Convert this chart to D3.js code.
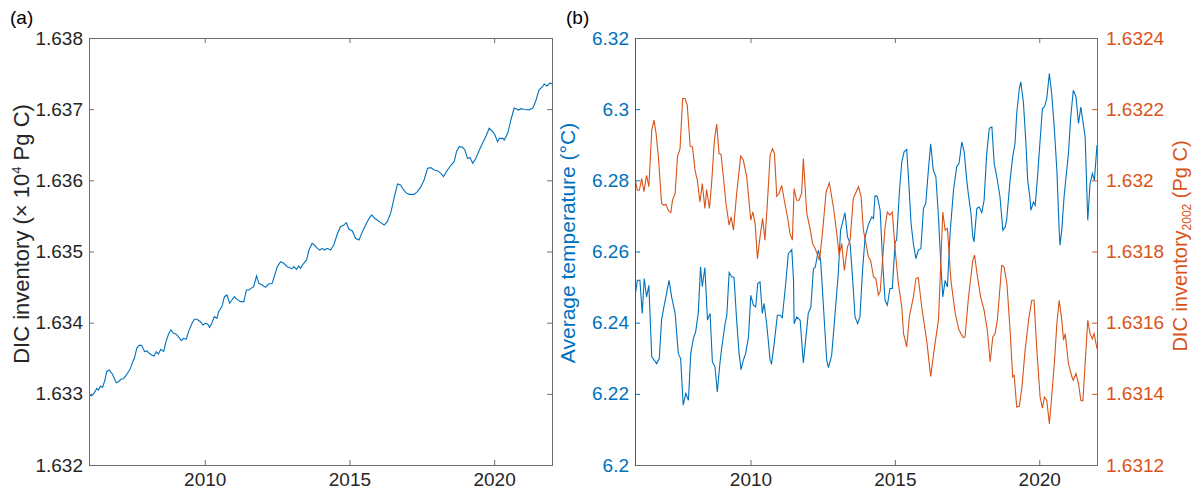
<!DOCTYPE html>
<html>
<head>
<meta charset="utf-8">
<script src="https://cdn.jsdelivr.net/npm/d3@7"></script>
<style>
    body { margin: 0; background: #fff; }
    svg text { font-family: "Liberation Sans", Arial, Helvetica, sans-serif; }
</style>
</head>
<body>
<div class="chart"></div>
<script>
    // ---- data ----
    // (a) DIC inventory, x 10^4 Pg C
    var yearsA = [2006.00, 2006.09, 2006.17, 2006.27, 2006.32, 2006.40, 2006.47, 2006.55, 2006.61, 2006.70,
        2006.79, 2006.84, 2006.94, 2007.02, 2007.10, 2007.19, 2007.27, 2007.36, 2007.42, 2007.51,
        2007.57, 2007.65, 2007.73, 2007.82, 2007.92, 2008.00, 2008.08, 2008.17, 2008.25, 2008.32,
        2008.40, 2008.48, 2008.58, 2008.66, 2008.75, 2008.83, 2008.92, 2009.00, 2009.09, 2009.19,
        2009.27, 2009.36, 2009.44, 2009.56, 2009.64, 2009.73, 2009.85, 2009.94, 2010.02, 2010.10,
        2010.17, 2010.25, 2010.33, 2010.42, 2010.48, 2010.60, 2010.68, 2010.77, 2010.86, 2010.94,
        2011.02, 2011.12, 2011.23, 2011.35, 2011.44, 2011.52, 2011.60, 2011.69, 2011.79, 2011.87,
        2011.98, 2012.10, 2012.21, 2012.33, 2012.50, 2012.62, 2012.73, 2012.85, 2013.02, 2013.08,
        2013.17, 2013.25, 2013.31, 2013.42, 2013.52, 2013.60, 2013.71, 2013.79, 2013.89, 2013.98,
        2014.06, 2014.14, 2014.23, 2014.35, 2014.46, 2014.58, 2014.69, 2014.81, 2014.89, 2014.98,
        2015.10, 2015.21, 2015.33, 2015.45, 2015.56, 2015.68, 2015.77, 2015.87, 2015.96, 2016.08,
        2016.20, 2016.31, 2016.43, 2016.54, 2016.66, 2016.77, 2016.83, 2016.95, 2017.06, 2017.23,
        2017.35, 2017.47, 2017.58, 2017.70, 2017.81, 2017.93, 2018.04, 2018.16, 2018.25, 2018.39,
        2018.51, 2018.62, 2018.70, 2018.79, 2018.91, 2018.99, 2019.08, 2019.17, 2019.26, 2019.37,
        2019.49, 2019.60, 2019.72, 2019.83, 2019.95, 2020.03, 2020.12, 2020.18, 2020.30, 2020.35,
        2020.47, 2020.58, 2020.69, 2020.79, 2020.84, 2020.93, 2021.05, 2021.20, 2021.34, 2021.45,
        2021.55, 2021.66, 2021.73, 2021.83, 2021.93, 2022.00];
    var dicA = [1.632984, 1.632970, 1.633007, 1.633077, 1.633054, 1.633110, 1.633091, 1.633194, 1.633311, 1.633335,
        1.633288, 1.633251, 1.633157, 1.633171, 1.633204, 1.633213, 1.633251, 1.633311, 1.633344, 1.633452,
        1.633499, 1.633639, 1.633681, 1.633681, 1.633593, 1.633602, 1.633569, 1.633546, 1.633532, 1.633593,
        1.633560, 1.633625, 1.633593, 1.633733, 1.633841, 1.633897, 1.633850, 1.633841, 1.633803, 1.633747,
        1.633780, 1.633766, 1.633874, 1.633991, 1.634047, 1.634047, 1.634014, 1.633967, 1.633991, 1.633981,
        1.633934, 1.634000, 1.634084, 1.634061, 1.634155, 1.634234, 1.634365, 1.634389, 1.634272, 1.634319,
        1.634365, 1.634328, 1.634295, 1.634295, 1.634459, 1.634459, 1.634482, 1.634506, 1.634656, 1.634553,
        1.634529, 1.634496, 1.634543, 1.634553, 1.634778, 1.634857, 1.634834, 1.634787, 1.634759, 1.634787,
        1.634749, 1.634796, 1.634763, 1.634834, 1.634881, 1.635021, 1.635115, 1.635091, 1.635044, 1.635021,
        1.635044, 1.635021, 1.635044, 1.635021, 1.635091, 1.635246, 1.635349, 1.635372, 1.635405, 1.635316,
        1.635288, 1.635185, 1.635162, 1.635279, 1.635372, 1.635466, 1.635513, 1.635466, 1.635443, 1.635405,
        1.635372, 1.635419, 1.635546, 1.635747, 1.635948, 1.635934, 1.635888, 1.635827, 1.635803, 1.635803,
        1.635841, 1.635911, 1.636005, 1.636169, 1.636178, 1.636145, 1.636136, 1.636098, 1.636052, 1.636145,
        1.636215, 1.636262, 1.636403, 1.636473, 1.636464, 1.636426, 1.636309, 1.636319, 1.636239, 1.636309,
        1.636426, 1.636520, 1.636623, 1.636731, 1.636684, 1.636637, 1.636543, 1.636590, 1.636590, 1.636567,
        1.636660, 1.636848, 1.637016, 1.637000, 1.636988, 1.637007, 1.636995, 1.636990, 1.637016, 1.637129,
        1.637269, 1.637312, 1.637354, 1.637326, 1.637368, 1.637354];

    // (b) average temperature, degC (left axis)
    var yearsTemp = [2006.00, 2006.08, 2006.17, 2006.25, 2006.32, 2006.40, 2006.48, 2006.58, 2006.75, 2006.84,
        2006.92, 2006.98, 2007.18, 2007.27, 2007.39, 2007.50, 2007.58, 2007.67, 2007.76, 2007.85,
        2007.93, 2008.02, 2008.10, 2008.19, 2008.27, 2008.33, 2008.42, 2008.51, 2008.60, 2008.68,
        2008.77, 2008.85, 2008.94, 2009.00, 2009.12, 2009.18, 2009.26, 2009.35, 2009.43, 2009.52,
        2009.60, 2009.67, 2009.75, 2009.83, 2009.93, 2010.01, 2010.10, 2010.18, 2010.25, 2010.33,
        2010.41, 2010.47, 2010.56, 2010.68, 2010.73, 2010.82, 2010.93, 2011.02, 2011.10, 2011.22,
        2011.31, 2011.43, 2011.49, 2011.51, 2011.60, 2011.72, 2011.83, 2011.91, 2012.00, 2012.09,
        2012.18, 2012.24, 2012.35, 2012.43, 2012.52, 2012.64, 2012.70, 2012.81, 2012.93, 2013.04,
        2013.12, 2013.18, 2013.27, 2013.36, 2013.45, 2013.54, 2013.62, 2013.71, 2013.79, 2013.88,
        2013.97, 2014.08, 2014.20, 2014.26, 2014.31, 2014.39, 2014.49, 2014.58, 2014.66, 2014.74,
        2014.83, 2014.91, 2015.01, 2015.06, 2015.16, 2015.24, 2015.32, 2015.41, 2015.49, 2015.56,
        2015.64, 2015.73, 2015.81, 2015.90, 2015.99, 2016.07, 2016.16, 2016.24, 2016.33, 2016.42,
        2016.51, 2016.59, 2016.66, 2016.74, 2016.82, 2016.91, 2017.03, 2017.14, 2017.22, 2017.32,
        2017.40, 2017.49, 2017.55, 2017.63, 2017.70, 2017.74, 2017.84, 2017.92, 2018.01, 2018.09,
        2018.18, 2018.27, 2018.36, 2018.44, 2018.53, 2018.64, 2018.74, 2018.82, 2018.87, 2018.99,
        2019.08, 2019.16, 2019.22, 2019.31, 2019.36, 2019.45, 2019.54, 2019.60, 2019.68, 2019.71,
        2019.80, 2019.86, 2019.94, 2020.03, 2020.11, 2020.18, 2020.26, 2020.35, 2020.43, 2020.51,
        2020.61, 2020.69, 2020.72, 2020.78, 2020.86, 2021.01, 2021.09, 2021.18, 2021.27, 2021.36,
        2021.44, 2021.59, 2021.68, 2021.76, 2021.84, 2021.91, 2022.00];
    var tempB = [6.2472, 6.2519, 6.2519, 6.2426, 6.2524, 6.2472, 6.2505, 6.2304, 6.2285, 6.2299,
        6.2407, 6.2435, 6.2519, 6.2472, 6.2426, 6.2313, 6.2299, 6.2168, 6.2201, 6.2182,
        6.2313, 6.2355, 6.2374, 6.2426, 6.2557, 6.2501, 6.2555, 6.2407, 6.2426, 6.2290,
        6.2276, 6.2205, 6.2285, 6.2327, 6.2397, 6.2421, 6.2541, 6.2529, 6.2527, 6.2407,
        6.2318, 6.2268, 6.2294, 6.2313, 6.2360, 6.2477, 6.2449, 6.2444, 6.2510, 6.2515,
        6.2426, 6.2454, 6.2397, 6.2294, 6.2285, 6.2341, 6.2421, 6.2421, 6.2414, 6.2510,
        6.2594, 6.2605, 6.2519, 6.2397, 6.2416, 6.2407, 6.2287, 6.2351, 6.2426, 6.2444,
        6.2552, 6.2555, 6.2604, 6.2575, 6.2454, 6.2294, 6.2274, 6.2308, 6.2426, 6.2538,
        6.2660, 6.2679, 6.2709, 6.2641, 6.2622, 6.2519, 6.2416, 6.2397, 6.2416, 6.2547,
        6.2641, 6.2675, 6.2697, 6.2693, 6.2756, 6.2755, 6.2716, 6.2566, 6.2463, 6.2449,
        6.2496, 6.2496, 6.2627, 6.2632, 6.2772, 6.2852, 6.2880, 6.2887, 6.2782, 6.2679,
        6.2622, 6.2580, 6.2604, 6.2608, 6.2721, 6.2735, 6.2829, 6.2903, 6.2829, 6.2810,
        6.2697, 6.2566, 6.2472, 6.2519, 6.2500, 6.2650, 6.2772, 6.2838, 6.2847, 6.2908,
        6.2880, 6.2800, 6.2758, 6.2711, 6.2641, 6.2627, 6.2721, 6.2725, 6.2709, 6.2744,
        6.2875, 6.2946, 6.2950, 6.2847, 6.2810, 6.2754, 6.2660, 6.2669, 6.2688, 6.2800,
        6.2866, 6.2903, 6.2988, 6.3058, 6.3077, 6.3021, 6.2903, 6.2800, 6.2749, 6.2716,
        6.2739, 6.2730, 6.2810, 6.2913, 6.3002, 6.3006, 6.3030, 6.3100, 6.3044, 6.2960,
        6.2829, 6.2660, 6.2618, 6.2660, 6.2754, 6.2875, 6.2978, 6.3053, 6.3035, 6.2960,
        6.3006, 6.2922, 6.2688, 6.2791, 6.2819, 6.2800, 6.2899];

    // (b) DIC inventory 2002, Pg C (right axis)
    var yearsDic = [2006.00, 2006.08, 2006.15, 2006.23, 2006.31, 2006.40, 2006.48, 2006.58, 2006.66, 2006.73,
        2006.81, 2006.92, 2007.00, 2007.07, 2007.15, 2007.24, 2007.30, 2007.39, 2007.47, 2007.56,
        2007.65, 2007.73, 2007.81, 2007.91, 2007.99, 2008.08, 2008.16, 2008.25, 2008.33, 2008.42,
        2008.48, 2008.58, 2008.66, 2008.75, 2008.83, 2008.91, 2008.98, 2009.06, 2009.15, 2009.26,
        2009.33, 2009.41, 2009.52, 2009.66, 2009.75, 2009.87, 2010.01, 2010.08, 2010.16, 2010.24,
        2010.33, 2010.42, 2010.50, 2010.58, 2010.68, 2010.76, 2010.83, 2010.91, 2010.99, 2011.08,
        2011.17, 2011.28, 2011.37, 2011.45, 2011.51, 2011.60, 2011.68, 2011.77, 2011.83, 2011.95,
        2012.06, 2012.15, 2012.24, 2012.39, 2012.50, 2012.62, 2012.73, 2012.87, 2012.99, 2013.07,
        2013.16, 2013.25, 2013.36, 2013.45, 2013.56, 2013.74, 2013.83, 2013.91, 2014.00, 2014.08,
        2014.16, 2014.26, 2014.34, 2014.43, 2014.49, 2014.57, 2014.66, 2014.74, 2014.83, 2014.91,
        2015.01, 2015.12, 2015.24, 2015.30, 2015.41, 2015.50, 2015.64, 2015.73, 2015.81, 2015.93,
        2016.10, 2016.24, 2016.39, 2016.51, 2016.66, 2016.74, 2016.82, 2016.94, 2017.09, 2017.22,
        2017.37, 2017.43, 2017.55, 2017.70, 2017.76, 2017.86, 2017.97, 2018.09, 2018.20, 2018.30,
        2018.39, 2018.47, 2018.55, 2018.70, 2018.78, 2018.88, 2018.99, 2019.08, 2019.13, 2019.22,
        2019.31, 2019.40, 2019.51, 2019.63, 2019.74, 2019.82, 2019.91, 2020.03, 2020.11, 2020.18,
        2020.26, 2020.35, 2020.43, 2020.53, 2020.61, 2020.69, 2020.78, 2020.84, 2020.90, 2021.01,
        2021.13, 2021.18, 2021.27, 2021.36, 2021.44, 2021.51, 2021.68, 2021.76, 2021.84, 2021.90,
        2022.00];
    var dicB = [1.632005, 1.631972, 1.631972, 1.632005, 1.631968, 1.632014, 1.631982, 1.632141, 1.632169, 1.632132,
        1.632066, 1.631935, 1.631930, 1.631933, 1.631916, 1.631909, 1.631944, 1.631963, 1.632066, 1.632089,
        1.632230, 1.632230, 1.632211, 1.632096, 1.632094, 1.632028, 1.632000, 1.631939, 1.631991, 1.631921,
        1.631974, 1.631921, 1.632000, 1.632113, 1.632158, 1.632075, 1.632073, 1.632010, 1.631935, 1.631874,
        1.631897, 1.631860, 1.631963, 1.632068, 1.632057, 1.632010, 1.631888, 1.631911, 1.631879, 1.631780,
        1.631841, 1.631893, 1.631832, 1.631930, 1.632071, 1.632089, 1.632075, 1.631955, 1.631963, 1.631986,
        1.631944, 1.631897, 1.631850, 1.631832, 1.631977, 1.631944, 1.631944, 1.631963, 1.632061, 1.631907,
        1.631865, 1.631822, 1.631808, 1.631775, 1.631860, 1.631968, 1.631993, 1.631925, 1.631850, 1.631790,
        1.631822, 1.631747, 1.631813, 1.631832, 1.631949, 1.631982, 1.631954, 1.631860, 1.631822, 1.631785,
        1.631775, 1.631729, 1.631724, 1.631677, 1.631687, 1.631771, 1.631869, 1.631911, 1.631902, 1.631911,
        1.631804, 1.631710, 1.631644, 1.631569, 1.631532, 1.631616, 1.631672, 1.631724, 1.631727, 1.631644,
        1.631551, 1.631449, 1.631541, 1.631607, 1.631911, 1.631860, 1.631865, 1.631719, 1.631626, 1.631579,
        1.631558, 1.631560, 1.631672, 1.631775, 1.631790, 1.631729, 1.631672, 1.631635, 1.631579, 1.631490,
        1.631560, 1.631569, 1.631607, 1.631761, 1.631757, 1.631710, 1.631579, 1.631448, 1.631452, 1.631363,
        1.631365, 1.631419, 1.631522, 1.631607, 1.631663, 1.631663, 1.631532, 1.631391, 1.631360, 1.631391,
        1.631382, 1.631316, 1.631391, 1.631494, 1.631597, 1.631663, 1.631607, 1.631551, 1.631569, 1.631485,
        1.631448, 1.631438, 1.631457, 1.631429, 1.631382, 1.631380, 1.631607, 1.631569, 1.631555, 1.631569,
        1.631527];

    // ticks
    var yearTicks = [2010, 2015, 2020];
    var dicTicksA = [1.632, 1.633, 1.634, 1.635, 1.636, 1.637, 1.638];
    var dicTickLabelsA = ["1.632", "1.633", "1.634", "1.635", "1.636", "1.637", "1.638"];
    var tempTicks = [6.2, 6.22, 6.24, 6.26, 6.28, 6.3, 6.32];
    var tempTickLabels = ["6.2", "6.22", "6.24", "6.26", "6.28", "6.3", "6.32"];
    var dicTicksB = [1.6312, 1.6314, 1.6316, 1.6318, 1.632, 1.6322, 1.6324];
    var dicTickLabelsB = ["1.6312", "1.6314", "1.6316", "1.6318", "1.632", "1.6322", "1.6324"];

    // ---- layout ----
    var svgWidth = 1195;
    var svgHeight = 491;
    var plotTop = 38, plotBottom = 465;
    var fontSize = 19;
    var boxColor = "#6e6e6e";
    var textColor = "#262626";
    var blue = "#0072BD";
    var orange = "#D95319";

    var svg = d3.select(".chart")
        .append("svg")
        .attr("width", svgWidth)
        .attr("height", svgHeight);

    function styleAxis(g, lineColor, labelColor) {
        g.attr("font-size", fontSize)
            .attr("font-family", null)
            .attr("color", lineColor);
        g.select(".domain").remove();
        g.selectAll("line").attr("stroke-width", 1);
        g.selectAll("text").attr("fill", labelColor);
    }

    function edge(x1, y1, x2, y2, color) {
        svg.append("line")
            .attr("x1", x1).attr("y1", y1)
            .attr("x2", x2).attr("y2", y2)
            .attr("stroke", color)
            .attr("stroke-width", 1)
            .attr("shape-rendering", "crispEdges");
    }

    // ================= panel (a) =================
    var xA = d3.scaleLinear().domain([2006, 2022]).range([89, 552]);
    var yA = d3.scaleLinear().domain([1.632, 1.638]).range([plotBottom, plotTop]);

    svg.append("clipPath").attr("id", "clipA")
        .append("rect")
        .attr("x", xA.range()[0]).attr("y", plotTop)
        .attr("width", xA.range()[1] - xA.range()[0]).attr("height", plotBottom - plotTop);

    var lineA = d3.line()
        .x((d, i) => xA(yearsA[i]))
        .y(d => yA(d));

    svg.append("path")
        .datum(dicA)
        .attr("clip-path", "url(#clipA)")
        .attr("fill", "none")
        .attr("stroke", blue)
        .attr("stroke-width", 1.1)
        .attr("d", lineA);

    svg.append("g")
        .attr("transform", `translate(0, ${plotBottom})`)
        .call(d3.axisBottom(xA).tickValues(yearTicks).tickFormat(d3.format("d")).tickSize(-5).tickPadding(8))
        .call(g => styleAxis(g, boxColor, textColor));
    svg.append("g")
        .attr("transform", `translate(0, ${plotTop})`)
        .call(d3.axisTop(xA).tickValues(yearTicks).tickFormat("").tickSize(-5))
        .call(g => styleAxis(g, boxColor, textColor));
    svg.append("g")
        .attr("transform", `translate(${xA.range()[0]}, 0)`)
        .call(d3.axisLeft(yA).tickValues(dicTicksA).tickFormat((d, i) => dicTickLabelsA[i]).tickSize(-5).tickPadding(6))
        .call(g => styleAxis(g, boxColor, textColor));
    svg.append("g")
        .attr("transform", `translate(${xA.range()[1]}, 0)`)
        .call(d3.axisRight(yA).tickValues(dicTicksA).tickFormat("").tickSize(-5))
        .call(g => styleAxis(g, boxColor, textColor));

    edge(xA.range()[0] + 0.5, plotTop + 0.5, xA.range()[1] + 0.5, plotTop + 0.5, boxColor);
    edge(xA.range()[0] + 0.5, plotBottom + 0.5, xA.range()[1] + 0.5, plotBottom + 0.5, boxColor);
    edge(xA.range()[0] + 0.5, plotTop + 0.5, xA.range()[0] + 0.5, plotBottom + 0.5, boxColor);
    edge(xA.range()[1] + 0.5, plotTop + 0.5, xA.range()[1] + 0.5, plotBottom + 0.5, boxColor);

    var titleA = svg.append("text")
        .attr("transform", "translate(29, 234) rotate(-90)")
        .attr("text-anchor", "middle")
        .attr("font-size", 22)
        .attr("fill", textColor);
    titleA.append("tspan").text("DIC inventory (\u00d7 10");
    titleA.append("tspan").attr("font-size", 13).attr("dy", -8).text("4");
    titleA.append("tspan").attr("dy", 8).text(" Pg C)");

    svg.append("text")
        .attr("x", 10).attr("y", 24)
        .attr("font-size", fontSize)
        .attr("fill", "#000")
        .text("(a)");

    // ================= panel (b) =================
    var xB = d3.scaleLinear().domain([2006, 2022]).range([635, 1097]);
    var yT = d3.scaleLinear().domain([6.2, 6.32]).range([plotBottom, plotTop]);
    var yD = d3.scaleLinear().domain([1.6312, 1.6324]).range([plotBottom, plotTop]);

    svg.append("clipPath").attr("id", "clipB")
        .append("rect")
        .attr("x", xB.range()[0]).attr("y", plotTop)
        .attr("width", xB.range()[1] - xB.range()[0]).attr("height", plotBottom - plotTop);

    var lineT = d3.line()
        .x((d, i) => xB(yearsTemp[i]))
        .y(d => yT(d));
    var lineD = d3.line()
        .x((d, i) => xB(yearsDic[i]))
        .y(d => yD(d));

    svg.append("path")
        .datum(tempB)
        .attr("clip-path", "url(#clipB)")
        .attr("fill", "none")
        .attr("stroke", blue)
        .attr("stroke-width", 1.1)
        .attr("d", lineT);

    svg.append("path")
        .datum(dicB)
        .attr("clip-path", "url(#clipB)")
        .attr("fill", "none")
        .attr("stroke", orange)
        .attr("stroke-width", 1.1)
        .attr("d", lineD);

    svg.append("g")
        .attr("transform", `translate(0, ${plotBottom})`)
        .call(d3.axisBottom(xB).tickValues(yearTicks).tickFormat(d3.format("d")).tickSize(-5).tickPadding(8))
        .call(g => styleAxis(g, boxColor, textColor));
    svg.append("g")
        .attr("transform", `translate(0, ${plotTop})`)
        .call(d3.axisTop(xB).tickValues(yearTicks).tickFormat("").tickSize(-5))
        .call(g => styleAxis(g, boxColor, textColor));
    svg.append("g")
        .attr("transform", `translate(${xB.range()[0]}, 0)`)
        .call(d3.axisLeft(yT).tickValues(tempTicks).tickFormat((d, i) => tempTickLabels[i]).tickSize(-5).tickPadding(6))
        .call(g => styleAxis(g, blue, blue));
    svg.append("g")
        .attr("transform", `translate(${xB.range()[1]}, 0)`)
        .call(d3.axisRight(yD).tickValues(dicTicksB).tickFormat((d, i) => dicTickLabelsB[i]).tickSize(-5).tickPadding(9))
        .call(g => styleAxis(g, orange, orange));

    edge(xB.range()[0] + 0.5, plotTop + 0.5, xB.range()[1] + 0.5, plotTop + 0.5, boxColor);
    edge(xB.range()[0] + 0.5, plotBottom + 0.5, xB.range()[1] + 0.5, plotBottom + 0.5, boxColor);
    edge(xB.range()[0] + 0.5, plotTop + 0.5, xB.range()[0] + 0.5, plotBottom + 0.5, blue);
    edge(xB.range()[1] + 0.5, plotTop + 0.5, xB.range()[1] + 0.5, plotBottom + 0.5, orange);

    svg.append("text")
        .attr("transform", "translate(575, 243) rotate(-90)")
        .attr("text-anchor", "middle")
        .attr("font-size", 21)
        .attr("fill", blue)
        .text("Average temperature (\u00b0C)");

    var titleB = svg.append("text")
        .attr("transform", "translate(1187, 246) rotate(-90)")
        .attr("text-anchor", "middle")
        .attr("font-size", 20)
        .attr("fill", orange);
    titleB.append("tspan").text("DIC inventory");
    titleB.append("tspan").attr("font-size", 12).attr("dy", 4).text("2002");
    titleB.append("tspan").attr("dy", -4).text(" (Pg C)");

    svg.append("text")
        .attr("x", 566).attr("y", 24)
        .attr("font-size", fontSize)
        .attr("fill", "#000")
        .text("(b)");
</script>
</body>
</html>
